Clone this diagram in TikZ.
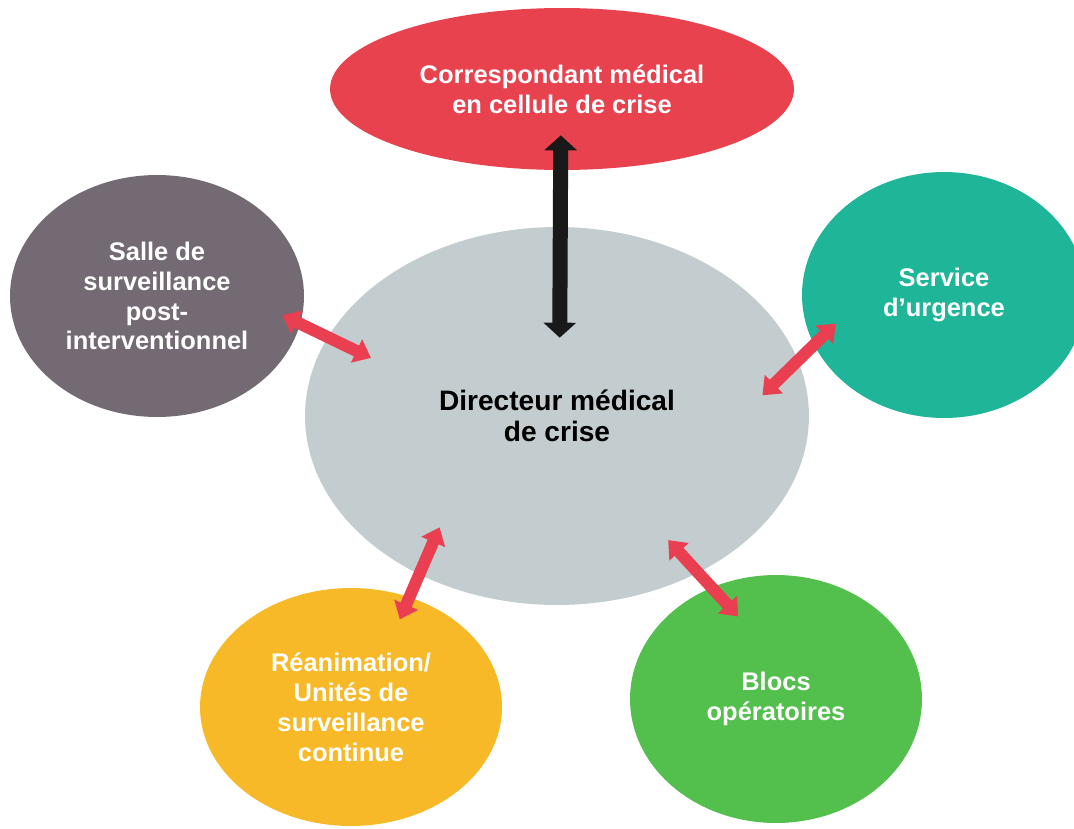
\documentclass[tikz,border=0pt]{standalone}
\usepackage{fontspec}
\setmainfont{Liberation Sans}
\usetikzlibrary{shapes.geometric,arrows.meta}
\definecolor{crisered}{HTML}{E8424F}
\definecolor{centregray}{HTML}{C3CCCE}
\definecolor{sspimauve}{HTML}{736A73}
\definecolor{urgteal}{HTML}{1FB598}
\definecolor{reayellow}{HTML}{F7B928}
\definecolor{blocgreen}{HTML}{53BF4C}
\definecolor{arrowred}{HTML}{EA3F50}
\begin{document}
\begin{tikzpicture}[x=0.02cm, y=-0.02cm,
    bulle/.style={ellipse, inner sep=0pt, align=center, text=white,
      font=\bfseries\fontsize{14.5}{17}\selectfont},
    lien/.style={draw=arrowred, line width=0.24cm,
      {Triangle[width=0.5cm,length=0.32cm]}-{Triangle[width=0.5cm,length=0.32cm]}},
    liennoir/.style={draw=black!90, line width=0.3cm,
      {Triangle[width=0.64cm,length=0.3cm]}-{Triangle[width=0.64cm,length=0.3cm]}}]
  \useasboundingbox (0,0) rectangle (1074,828);

  \node[bulle, fill=centregray, text=black, minimum width=10.08cm, minimum height=7.56cm,
    font=\bfseries\fontsize{16}{17.6}\selectfont] (dir) at (557,416) {Directeur médical\\de crise};
  \node[bulle, fill=crisered, minimum width=9.28cm, minimum height=3.24cm] (cor) at (562,89)
    {Correspondant médical\\en cellule de crise};
  \node[bulle, fill=sspimauve, minimum width=5.88cm, minimum height=4.84cm] (sal) at (157,296)
    {Salle de\\surveillance\\post-\\interventionnel};
  \node[bulle, fill=urgteal, minimum width=5.68cm, minimum height=4.92cm] (urg) at (944,295)
    {Service\\d’urgence};
  \node[bulle, fill=reayellow, minimum width=6.04cm, minimum height=4.76cm] (rea) at (351,707)
    {Réanimation/\\Unités de\\surveillance\\continue};
  \node[bulle, fill=blocgreen, minimum width=5.84cm, minimum height=4.96cm] (blo) at (776,699)
    {Blocs\\opératoires};

  \draw[liennoir, shorten <=-0.7cm, shorten >=-2.22cm] (cor.-91.4) -- (dir.89.1);
  \draw[lien, shorten <=-0.4cm, shorten >=-0.96cm] (sal.-11.9) -- (dir.161.4);
  \draw[lien, shorten <=-0.61cm, shorten >=-1.0cm] (urg.201.4) -- (dir.13.7);
  \draw[lien, shorten <=-0.49cm, shorten >=-1.03cm] (rea.62.8) -- (dir.229.8);
  \draw[lien, shorten <=-0.79cm, shorten >=-0.89cm] (blo.120.7) -- (dir.-48.1);
\end{tikzpicture}
\end{document}
